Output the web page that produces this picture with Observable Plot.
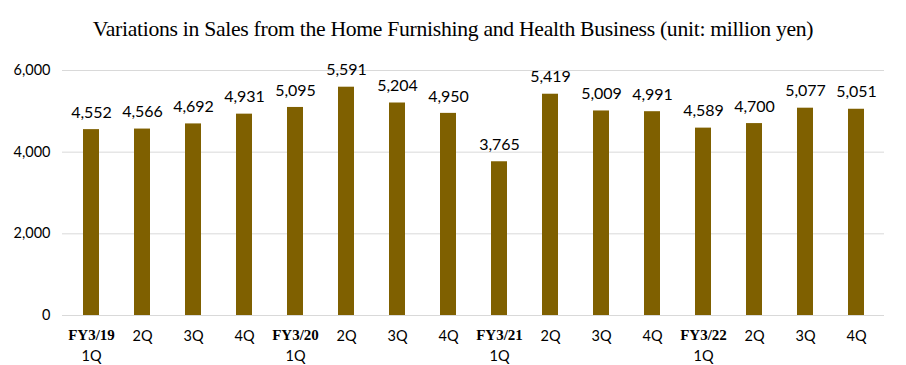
<!DOCTYPE html>
<html>
<head>
<meta charset="utf-8">
<script src="https://cdn.jsdelivr.net/npm/d3@7"></script>
<script src="https://cdn.jsdelivr.net/npm/@observablehq/plot@0.6"></script>
<style>
  html, body { margin: 0; padding: 0; background: #fff; }
  #title { height: 50px; line-height: 20px; padding-top: 19px; box-sizing: border-box; text-align: center;
    font-family: "Liberation Serif", serif; font-size: 21.7px; color: #000; letter-spacing: -0.3px; }
</style>
</head>
<body>
<div id="title">Variations in Sales from the Home Furnishing and Health Business (unit: million yen)</div>
<div id="chart"></div>
<script>
const fiscalYears = ["FY3/19", "FY3/20", "FY3/21", "FY3/22"];
const quarters = ["1Q", "2Q", "3Q", "4Q"];
const sales = [4552, 4566, 4692, 4931, 5095, 5591, 5204, 4950, 3765, 5419, 5009, 4991, 4589, 4700, 5077, 5051];
const yTicks = [0, 2000, 4000, 6000];

const data = sales.map((v, i) => ({
  key: fiscalYears[Math.floor(i / 4)] + " " + quarters[i % 4],
  fy: fiscalYears[Math.floor(i / 4)],
  q: quarters[i % 4],
  first: i % 4 === 0,
  value: v
}));

const fmt = d3.format(",");
const sans = "Lato, 'Open Sans', sans-serif";

const chart = Plot.plot({
  width: 906,
  height: 315,
  marginTop: 20,
  marginBottom: 50,
  marginLeft: 62,
  marginRight: 22,
  style: { fontFamily: sans, background: "#fff" },
  x: { domain: data.map(d => d.key), paddingInner: 0.69, paddingOuter: 0.345, axis: null },
  y: { domain: [0, 6000], ticks: yTicks, axis: null },
  marks: [
    Plot.ruleY(yTicks, { stroke: "#d9d9d9", strokeWidth: 1 }),
    Plot.barY(data, { x: "key", y: "value", fill: "#7F6000" }),
    Plot.text(data, { x: "key", y: "value", text: d => fmt(d.value), dy: -17, fontSize: 16, fill: "#000", fontFamily: sans }),
    Plot.text(yTicks, { y: d => d, text: d => fmt(d), frameAnchor: "left", textAnchor: "end", dx: -12, fontSize: 14.5, fill: "#000" }),
    Plot.text(data.filter(d => d.first), { x: "key", y: 0, text: "fy", dy: 20, fontSize: 15, fontWeight: "bold", fontFamily: "'Liberation Serif', serif", fill: "#000" }),
    Plot.text(data.filter(d => d.first), { x: "key", y: 0, text: "q", dy: 41, fontSize: 14.5, fill: "#000" }),
    Plot.text(data.filter(d => !d.first), { x: "key", y: 0, text: "q", dy: 21, fontSize: 14.5, fill: "#000" })
  ]
});
document.getElementById("chart").appendChild(chart);
</script>
</body>
</html>
